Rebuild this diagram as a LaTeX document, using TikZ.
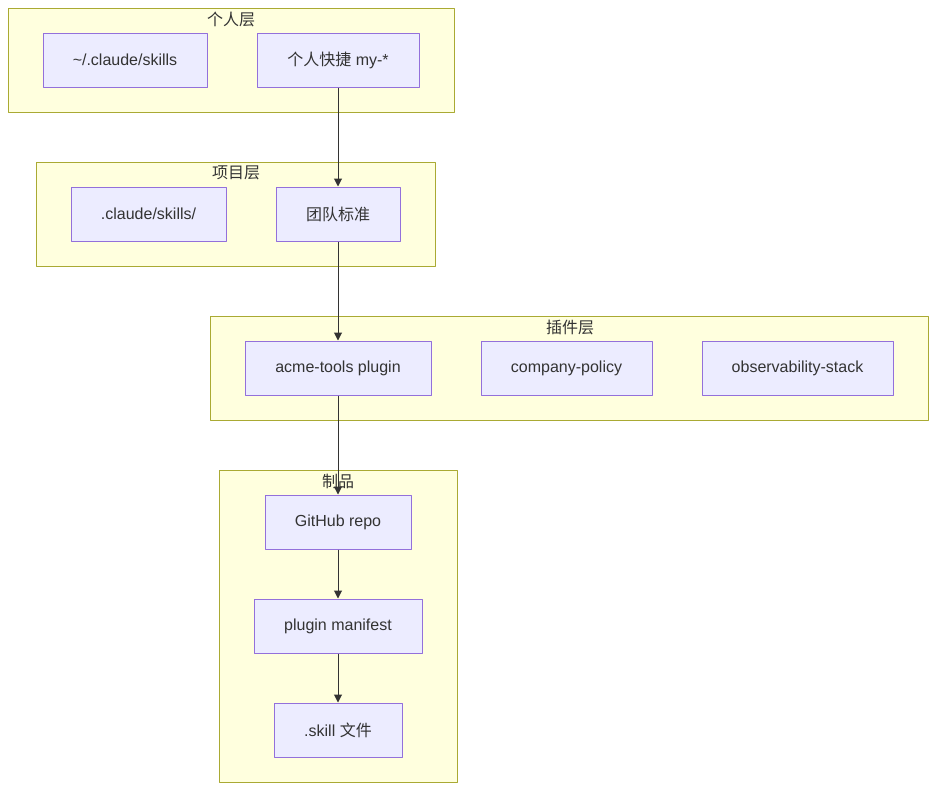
\documentclass[tikz,border=0pt]{standalone}
\usepackage{fontspec}
\setmainfont{Liberation Sans}
\newfontfamily\cjk{Noto Sans CJK SC}
\usetikzlibrary{arrows.meta}
\definecolor{layerfill}{HTML}{FFFFDE}
\definecolor{layerline}{HTML}{AAAA33}
\definecolor{boxfill}{HTML}{ECECFF}
\definecolor{boxline}{HTML}{9370DB}
\definecolor{ink}{HTML}{333333}
\begin{document}
\begin{tikzpicture}[x=1pt,y=1pt,line join=round,font=\fontsize{16}{19}\selectfont,text=ink,>={Triangle[length=8pt,width=8pt]},
	box/.style={draw=boxline,fill=boxfill,line width=1pt,minimum height=54pt,inner sep=0pt},
	layer/.style={draw=layerline,fill=layerfill,line width=1pt},
	flow/.style={draw=ink,line width=1pt,->}]
	\useasboundingbox (0,0) rectangle (937,-790);
	% layers
	\draw[layer] (8,-8) rectangle (454,-112);
	\draw[layer] (36,-162) rectangle (435,-266);
	\draw[layer] (210,-316) rectangle (928,-420);
	\draw[layer] (219,-470) rectangle (457,-782);
	\node (personal) at (231,-19) {\cjk 个人层};
	\node (project) at (236,-173) {\cjk 项目层};
	\node (plugins) at (570,-327) {\cjk 插件层};
	\node (artifact) at (338,-481) {\cjk 制品};
	% boxes
	\node[box,minimum width=164pt] (home) at (125,-60) {\textasciitilde/.claude/skills};
	\node[box,minimum width=162pt] (quick) at (338,-60) {{\cjk 个人快捷} my-*};
	\node[box,minimum width=155pt] (local) at (148.5,-214) {.claude/skills/};
	\node[box,minimum width=124pt] (team) at (338,-214) {\cjk 团队标准};
	\node[box,minimum width=186pt] (acme) at (338,-368) {acme-tools plugin};
	\node[box,minimum width=171pt] (policy) at (566.5,-368) {company-policy};
	\node[box,minimum width=191pt] (observe) at (797.5,-368) {observability-stack};
	\node[box,minimum width=146pt] (repo) at (338,-522) {GitHub repo};
	\node[box,minimum width=168pt] (manifest) at (338,-626) {plugin manifest};
	\node[box,minimum width=128pt] (file) at (338,-730) {.skill {\cjk 文件}};
	% flow
	\draw[flow] (quick) -- (team);
	\draw[flow] (team) -- (acme);
	\draw[flow] (acme) -- (repo);
	\draw[flow] (repo) -- (manifest);
	\draw[flow] (manifest) -- (file);
\end{tikzpicture}
\end{document}
